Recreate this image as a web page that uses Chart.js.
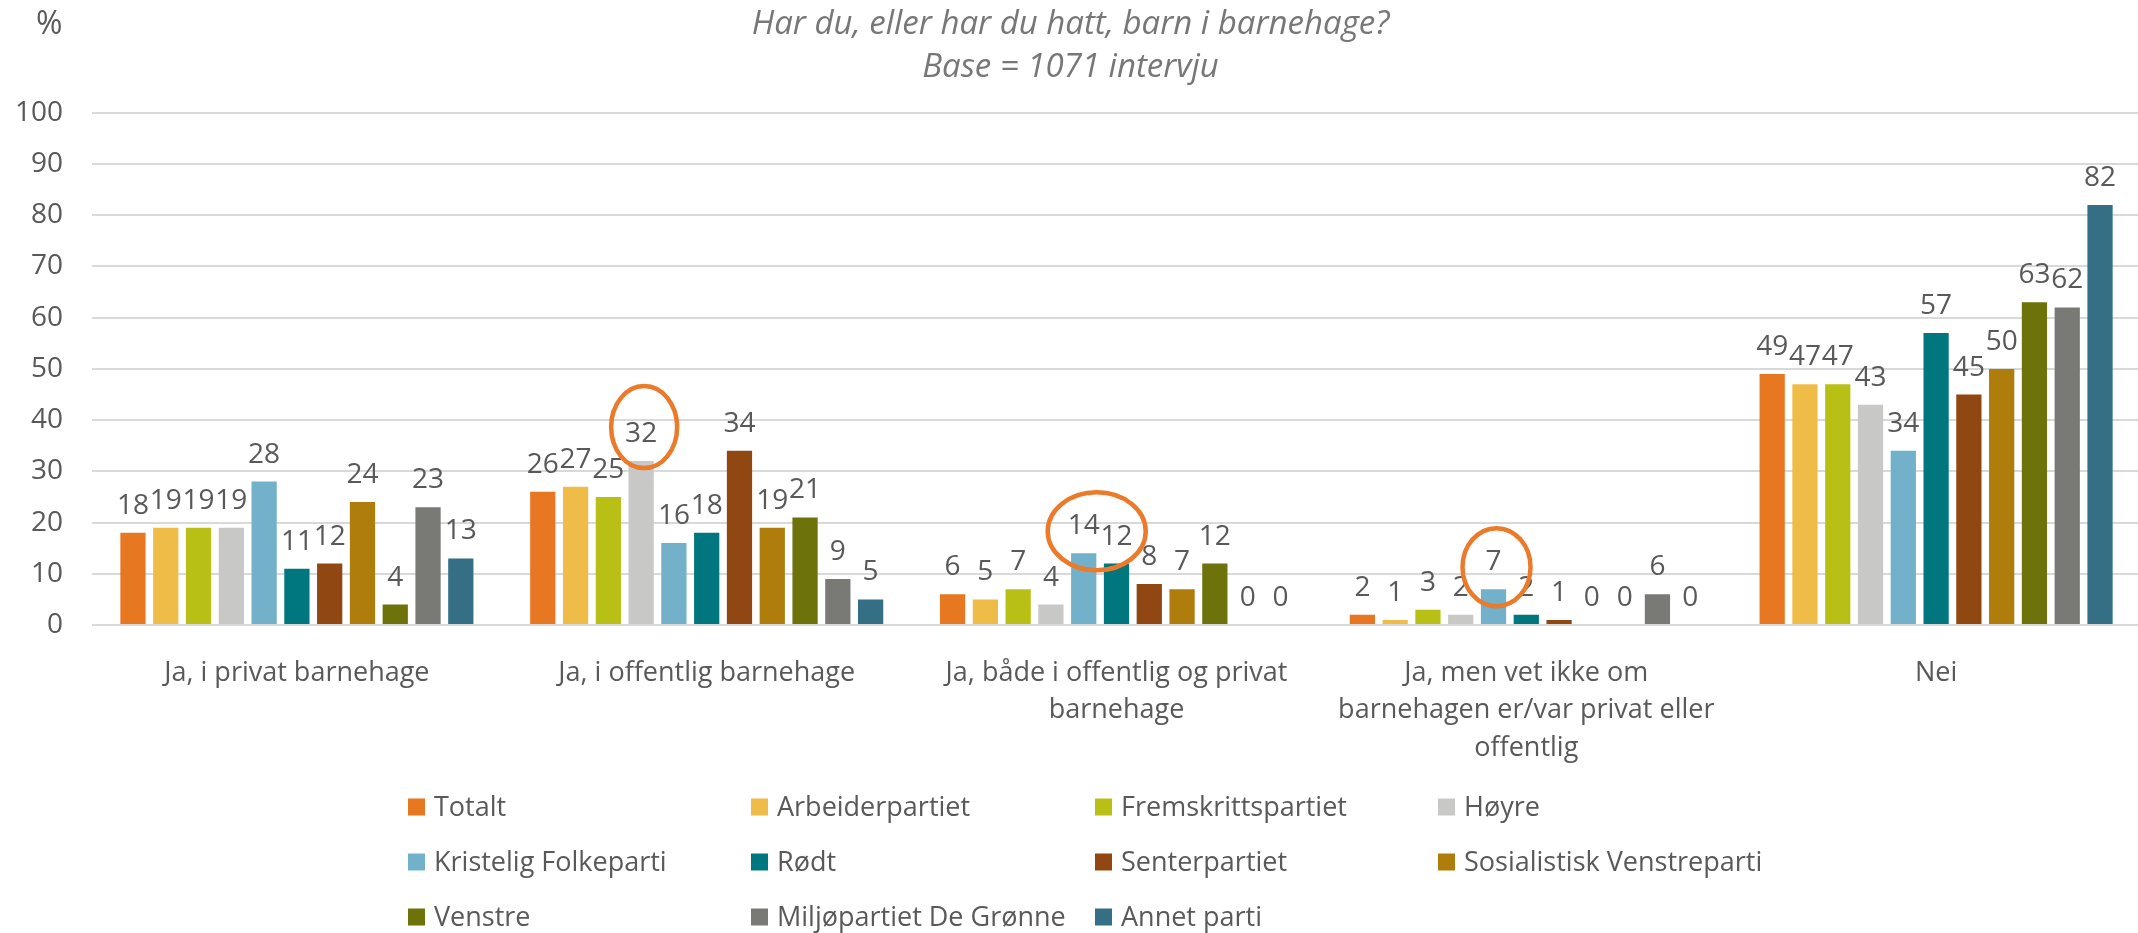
<!DOCTYPE html>
<html>
<head>
<meta charset="utf-8">
<script src="https://cdn.jsdelivr.net/npm/chart.js@4/dist/chart.umd.min.js"></script>
<style>
html,body{margin:0;padding:0;background:#fff;overflow:hidden}
#wrap{position:relative;width:2141px;height:933px}
</style>
</head>
<body>
<div id="wrap"><canvas id="c"></canvas></div>
<script>
// ---- data ----
const categories = [
  ["Ja, i privat barnehage"],
  ["Ja, i offentlig barnehage"],
  ["Ja, både i offentlig og privat", "barnehage"],
  ["Ja, men vet ikke om", "barnehagen er/var privat eller", "offentlig"],
  ["Nei"]
];
const seriesNames = ["Totalt","Arbeiderpartiet","Fremskrittspartiet","Høyre","Kristelig Folkeparti","Rødt","Senterpartiet","Sosialistisk Venstreparti","Venstre","Miljøpartiet De Grønne","Annet parti"];
const totalt                   = [18, 26,  6, 2, 49];
const arbeiderpartiet          = [19, 27,  5, 1, 47];
const fremskrittspartiet       = [19, 25,  7, 3, 47];
const hoyre                    = [19, 32,  4, 2, 43];
const kristeligFolkeparti      = [28, 16, 14, 7, 34];
const rodt                     = [11, 18, 12, 2, 57];
const senterpartiet            = [12, 34,  8, 1, 45];
const sosialistiskVenstreparti = [24, 19,  7, 0, 50];
const venstre                  = [ 4, 21, 12, 0, 63];
const miljopartiet             = [23,  9,  0, 6, 62];
const annetParti               = [13,  5,  0, 0, 82];
const yTicks = [0,10,20,30,40,50,60,70,80,90,100];
const titleLines = ["Har du, eller har du hatt, barn i barnehage?", "Base = 1071 intervju"];
const unitLabel = "%";
// highlighted (circled) values: [series index, category index]
const highlights = [[3, 1], [4, 2], [4, 3]];

// ---- styling ----
const seriesValues = [totalt, arbeiderpartiet, fremskrittspartiet, hoyre, kristeligFolkeparti, rodt, senterpartiet, sosialistiskVenstreparti, venstre, miljopartiet, annetParti];
const colors = ['#E87722','#F0BC48','#B9C015','#C8C8C6','#72B1C9','#00767E','#914711','#AE7D0C','#6E720B','#797A76','#346F85'];
const highlightShapes = [
  {dx: 3, dy: -34, rx: 33, ry: 41},
  {dx: 13, dy: -22, rx: 49, ry: 39},
  {dx: 3, dy: -22, rx: 34, ry: 39}
];
const FONT = "'Open Sans', sans-serif";
const TEXT = '#595959';

Chart.defaults.font.family = FONT;

const extras = {
  id: 'extras',
  afterDatasetsDraw(chart) {
    const ctx = chart.ctx;
    ctx.save();
    ctx.font = "28px " + FONT;
    ctx.fillStyle = TEXT;
    ctx.textAlign = 'center';
    ctx.textBaseline = 'alphabetic';
    chart.data.datasets.forEach((ds, i) => {
      const meta = chart.getDatasetMeta(i);
      meta.data.forEach((bar, j) => {
        ctx.fillText(String(ds.data[j]), bar.x, bar.y - 19);
      });
    });
    // circled highlights
    ctx.strokeStyle = '#EB7A2A';
    ctx.lineWidth = 4.5;
    highlights.forEach(([s, c], k) => {
      const bar = chart.getDatasetMeta(s).data[c];
      const sh = highlightShapes[k];
      ctx.beginPath();
      ctx.ellipse(bar.x + sh.dx, bar.y + sh.dy, sh.rx, sh.ry, 0, 0, Math.PI * 2);
      ctx.stroke();
    });
    ctx.restore();
  },
  afterDraw(chart) {
    const ctx = chart.ctx;
    ctx.save();
    // unit label
    ctx.font = "32px " + FONT;
    ctx.fillStyle = TEXT;
    ctx.textAlign = 'left';
    ctx.textBaseline = 'alphabetic';
    ctx.fillText(unitLabel, 36, 34);
    // legend grid
    const colX = [408, 751, 1095, 1438];
    const rowY = [807, 862, 917];
    ctx.font = "27px " + FONT;
    ctx.textBaseline = 'middle';
    chart.data.datasets.forEach((ds, i) => {
      const x = colX[i % 4], y = rowY[Math.floor(i / 4)];
      ctx.fillStyle = ds.backgroundColor;
      ctx.fillRect(x, y - 8.5, 17, 17);
      ctx.fillStyle = TEXT;
      ctx.fillText(ds.label, x + 26, y + 1);
    });
    ctx.restore();
  }
};

new Chart(document.getElementById('c'), {
  type: 'bar',
  data: {
    labels: categories,
    datasets: seriesNames.map((n, i) => ({
      label: n,
      data: seriesValues[i],
      backgroundColor: colors[i],
      categoryPercentage: 0.88,
      barPercentage: 0.77
    }))
  },
  options: {
    responsive: true,
    maintainAspectRatio: false,
    animation: false,
    layout: {padding: {left: 0, right: 0, top: 0, bottom: 0}},
    plugins: {
      legend: {display: false},
      tooltip: {enabled: false},
      title: {
        display: true,
        text: titleLines,
        color: '#777777',
        font: {family: FONT, size: 33, style: 'italic', weight: 'normal', lineHeight: 1.3},
        padding: {top: 3, bottom: 24}
      }
    },
    scales: {
      x: {
        grid: {display: false},
        border: {display: false},
        ticks: {
          color: TEXT,
          font: {size: 27, lineHeight: 1.4},
          padding: 21,
          maxRotation: 0,
          autoSkip: false
        },
        afterFit(scale) { scale.height = 308; }
      },
      y: {
        min: 0, max: 100,
        afterBuildTicks(scale) { scale.ticks = yTicks.map(v => ({value: v})); },
        grid: {color: '#D9D9D9', lineWidth: 2, drawTicks: false},
        border: {display: false},
        ticks: {color: TEXT, font: {size: 28}, padding: 29},
        afterFit(scale) { scale.width = 92; }
      }
    }
  },
  plugins: [extras]
});
</script>
</body>
</html>
